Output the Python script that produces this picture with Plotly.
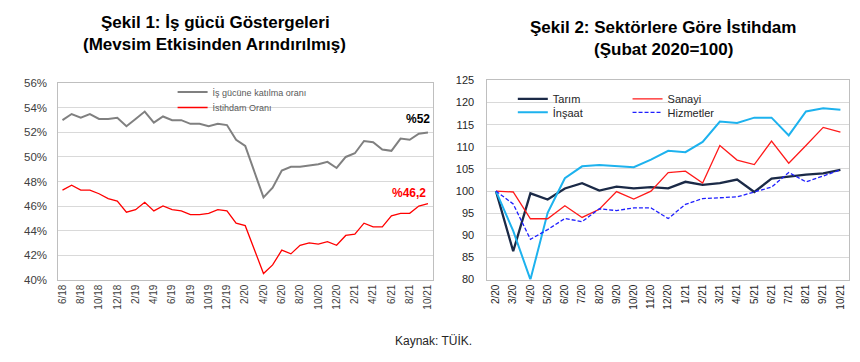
import plotly.graph_objects as go

# ---------- data ----------
months1 = ["6/18", "7/18", "8/18", "9/18", "10/18", "11/18", "12/18",
           "1/19", "2/19", "3/19", "4/19", "5/19", "6/19", "7/19", "8/19", "9/19", "10/19", "11/19", "12/19",
           "1/20", "2/20", "3/20", "4/20", "5/20", "6/20", "7/20", "8/20", "9/20", "10/20", "11/20", "12/20",
           "1/21", "2/21", "3/21", "4/21", "5/21", "6/21", "7/21", "8/21", "9/21", "10/21"]
lfpr = [53.0, 53.5, 53.2, 53.5, 53.1, 53.1, 53.2,
        52.5, 53.1, 53.7, 52.8, 53.3, 53.0, 53.0, 52.7, 52.7, 52.5, 52.7, 52.6,
        51.4, 50.9, 48.8, 46.7, 47.5, 48.9, 49.2, 49.2, 49.3, 49.4, 49.6, 49.1,
        50.0, 50.3, 51.3, 51.2, 50.6, 50.5, 51.5, 51.4, 51.9, 52.0]
emp = [47.3, 47.7, 47.3, 47.3, 47.0, 46.6, 46.4,
       45.5, 45.7, 46.3, 45.6, 46.0, 45.7, 45.6, 45.3, 45.3, 45.4, 45.7, 45.6,
       44.6, 44.4, 42.5, 40.5, 41.2, 42.4, 42.1, 42.8, 43.0, 42.9, 43.1, 42.8,
       43.6, 43.7, 44.6, 44.3, 44.3, 45.2, 45.4, 45.4, 46.0, 46.2]

months2 = ["2/20", "3/20", "4/20", "5/20", "6/20", "7/20", "8/20", "9/20", "10/20", "11/20", "12/20",
           "1/21", "2/21", "3/21", "4/21", "5/21", "6/21", "7/21", "8/21", "9/21", "10/21"]
tarim = [100, 86.4, 99.5, 98.1, 100.6, 101.8, 100.1, 101.0, 100.6, 100.9, 100.6,
         102.1, 101.4, 101.8, 102.6, 99.8, 102.8, 103.3, 103.7, 104.0, 104.8]
sanayi = [100, 99.8, 93.75, 93.75, 96.7, 94.05, 95.9, 99.9, 98.2, 100.0, 104.2,
          104.5, 101.8, 110.3, 107.0, 106.0, 111.3, 106.3, 110.3, 114.4, 113.3]
insaat = [100, 91.0, 80.0, 95.1, 102.9, 105.6, 105.9, 105.7, 105.4, 107.1, 109.1,
          108.8, 111.1, 115.7, 115.4, 116.6, 116.6, 112.6, 118.0, 118.7, 118.4]
hizmet = [100, 97.1, 89.1, 91.3, 93.8, 93.1, 96.0, 95.6, 96.2, 96.2, 93.8,
          97.0, 98.3, 98.5, 98.7, 99.8, 100.9, 104.2, 102.1, 103.4, 104.8]

title1 = ["Şekil 1: İş gücü Göstergeleri", "(Mevsim Etkisinden Arındırılmış)"]
title2 = ["Şekil 2: Sektörlere Göre İstihdam", "(Şubat 2020=100)"]
source = "Kaynak: TÜİK."

# ---------- layout helpers ----------
W, H = 860, 362
FONT = "Liberation Sans, Arial, sans-serif"
def fx(p): return p / W
def fy(p): return 1 - p / H

fig = go.Figure()

fig.add_trace(go.Scatter(x=months1, y=lfpr, xaxis="x", yaxis="y", mode="lines",
                         line=dict(color="#808080", width=2),
                         name="İş gücüne katılma oranı", legend="legend"))
fig.add_trace(go.Scatter(x=months1, y=emp, xaxis="x", yaxis="y", mode="lines",
                         line=dict(color="#ff0000", width=1.3),
                         name="İstihdam Oranı", legend="legend2"))

fig.add_trace(go.Scatter(x=months2, y=tarim, xaxis="x2", yaxis="y2", mode="lines",
                         line=dict(color="#1b2a47", width=2.3),
                         name="Tarım", legend="legend3"))
fig.add_trace(go.Scatter(x=months2, y=insaat, xaxis="x2", yaxis="y2", mode="lines",
                         line=dict(color="#1db2ee", width=2),
                         name="İnşaat", legend="legend4"))
fig.add_trace(go.Scatter(x=months2, y=sanayi, xaxis="x2", yaxis="y2", mode="lines",
                         line=dict(color="#ff1a1a", width=1.3),
                         name="Sanayi", legend="legend5"))
fig.add_trace(go.Scatter(x=months2, y=hizmet, xaxis="x2", yaxis="y2", mode="lines",
                         line=dict(color="#1f1fff", width=1.3, dash="4px,2px"),
                         name="Hizmetler", legend="legend6"))

axis_common = dict(showline=True, mirror=True, linecolor="#bfbfbf", linewidth=1,
                   zeroline=False, fixedrange=True)

def leg(xpix, ypix, size, color):
    return dict(x=fx(xpix), y=fy(ypix), xanchor="left", yanchor="middle",
                bgcolor="rgba(0,0,0,0)", borderwidth=0,
                font=dict(family=FONT, size=size, color=color), itemwidth=30)

annotations = [
    dict(text=title1[0], x=fx(214), y=fy(17), size=17),
    dict(text=title1[1], x=fx(213), y=fy(40), size=17),
    dict(text=title2[0], x=fx(663), y=fy(22), size=17),
    dict(text=title2[1], x=fx(663), y=fy(45), size=17),
]
ann = []
for a in annotations:
    ann.append(dict(text="<b>" + a["text"] + "</b>", x=a["x"], y=a["y"], xref="paper", yref="paper",
                    showarrow=False, font=dict(family=FONT, size=a["size"], color="#000000"),
                    xanchor="center", yanchor="middle"))
ann += [
    dict(text="<b>%52</b>", x=fx(431), y=fy(117), xref="paper", yref="paper", showarrow=False,
         font=dict(family=FONT, size=12, color="#000000"), xanchor="right", yanchor="middle"),
    dict(text="<b>%46,2</b>", x=fx(427), y=fy(193), xref="paper", yref="paper", showarrow=False,
         font=dict(family=FONT, size=12, color="#ff0000"), xanchor="right", yanchor="middle"),
    dict(text=source, x=fx(433), y=fy(347), xref="paper", yref="paper", showarrow=False,
         font=dict(family=FONT, size=12, color="#262626"), xanchor="center", yanchor="middle"),
]

fig.update_layout(
    width=W, height=H,
    margin=dict(l=0, r=0, t=0, b=0),
    paper_bgcolor="white", plot_bgcolor="white",
    font=dict(family=FONT, size=11, color="#404040"),
    hovermode=False,
    showlegend=True,
    xaxis=dict(domain=[fx(56.5), fx(432)], anchor="y", type="category",
               range=[-0.45, 40.55], tickmode="array", tickvals=months1[::2],
               tickangle=-90, tickfont=dict(size=10, color="#404040"),
               showgrid=False, ticks="", **axis_common),
    yaxis=dict(domain=[fy(283), fy(80)], anchor="x", range=[40, 56], dtick=2,
               ticksuffix="%", tickfont=dict(size=11.5, color="#404040"),
               gridcolor="#d9d9d9", ticks="", ticklabelstandoff=8, **axis_common),
    xaxis2=dict(domain=[fx(486.5), fx(849)], anchor="y2", type="category",
                range=[-0.5, 20.5], tickmode="array", tickvals=months2,
                tickangle=-90, tickfont=dict(size=10, color="#262626"),
                showgrid=False, ticks="", **axis_common),
    yaxis2=dict(domain=[fy(283), fy(77)], anchor="x2", range=[80, 125], dtick=5,
                tickfont=dict(size=11, color="#262626"),
                gridcolor="#d9d9d9", ticks="", ticklabelstandoff=10, **axis_common),
    legend=leg(171, 89, 9, "#595959"),
    legend2=leg(171, 105, 9, "#595959"),
    legend3=leg(512, 96, 11, "#262626"),
    legend4=leg(512, 110, 11, "#262626"),
    legend5=leg(627, 96, 11, "#262626"),
    legend6=leg(627, 110, 11, "#262626"),
    annotations=ann,
)

fig.write_html("out.html", config={"displayModeBar": False},
               post_script="document.body.style.margin='0';")
